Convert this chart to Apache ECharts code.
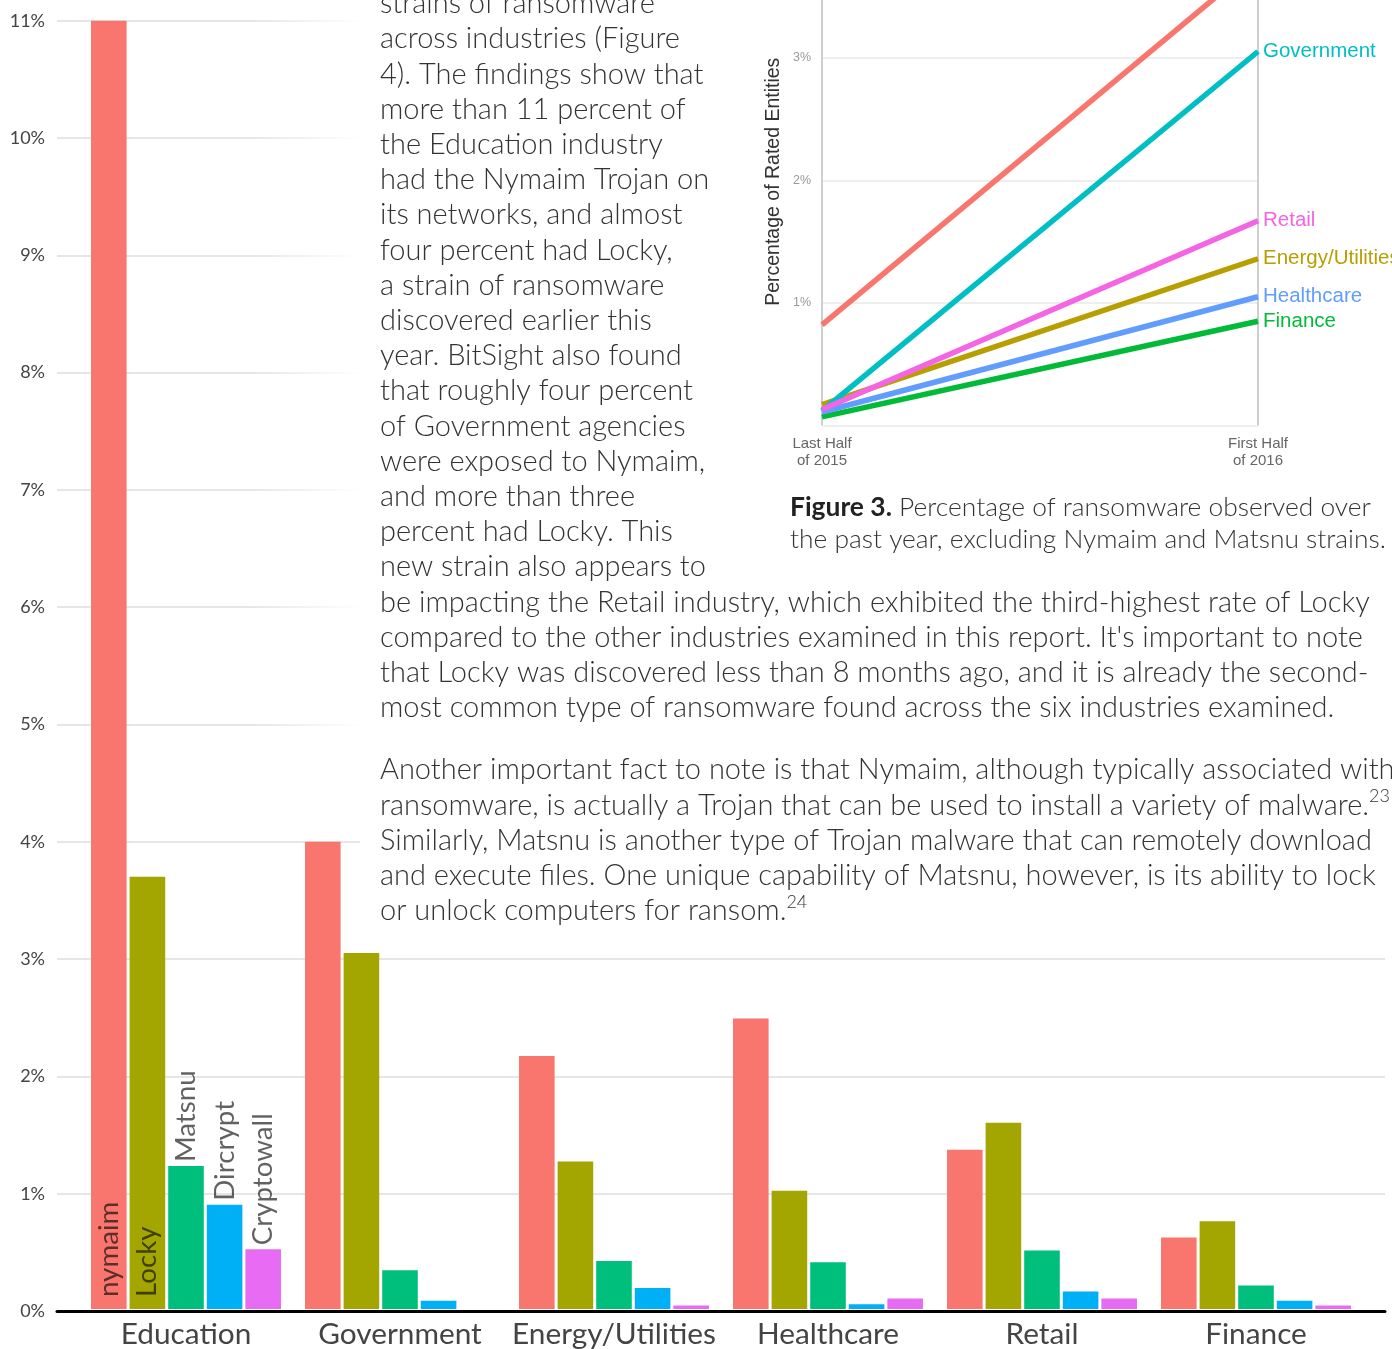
<!DOCTYPE html>
<html><head><meta charset="utf-8">
<script src="https://cdn.jsdelivr.net/npm/echarts@6/dist/echarts.min.js"></script>
<style>html,body{margin:0;padding:0;background:#fff}#c{width:1392px;height:1349px}</style>
</head><body><div id="c"></div>
<script>
// ---- main bar chart data (percent of entities) ----
const categories = ['Education', 'Government', 'Energy/Utilities', 'Healthcare', 'Retail', 'Finance'];
const nymaim     = [11.08, 3.99, 2.16, 2.48, 1.36, 0.61];
const locky      = [3.69, 3.04, 1.26, 1.01, 1.59, 0.75];
const matsnu     = [1.22, 0.33, 0.41, 0.40, 0.50, 0.20];
const dircrypt   = [0.89, 0.07, 0.18, 0.04, 0.15, 0.07];
const cryptowall = [0.51, 0.00, 0.03, 0.09, 0.09, 0.03];
const strainNames = ['nymaim', 'Locky', 'Matsnu', 'Dircrypt', 'Cryptowall'];
const yTicks = [0, 1, 2, 3, 4, 5, 6, 7, 8, 9, 10, 11];

// ---- inset line chart data (Figure 3) ----
const periods = ['Last Half\nof 2015', 'First Half\nof 2016'];
const eduLine  = [0.82, 3.78];
const enerLine = [0.17, 1.36];
const finLine  = [0.07, 0.85];
const govLine  = [0.12, 3.05];
const hlthLine = [0.11, 1.05];
const retLine  = [0.13, 1.67];
const insetTicks = [1, 2, 3];
const insetMax = 3.47;

// ---- texts ----
const bodyLines = [
  'strains of ransomware',
  'across industries (Figure',
  '4). The findings show that',
  'more than 11 percent of',
  'the Education industry',
  'had the Nymaim Trojan on',
  'its networks, and almost',
  'four percent had Locky,',
  'a strain of ransomware',
  'discovered earlier this',
  'year. BitSight also found',
  'that roughly four percent',
  'of Government agencies',
  'were exposed to Nymaim,',
  'and more than three',
  'percent had Locky. This',
  'new strain also appears to',
  'be impacting the Retail industry, which exhibited the third-highest rate of Locky',
  "compared to the other industries examined in this report. It's important to note",
  'that Locky was discovered less than 8 months ago, and it is already the second-',
  'most common type of ransomware found across the six industries examined.'
];
const body2Lines = [
  'Another important fact to note is that Nymaim, although typically associated with',
  'ransomware, is actually a Trojan that can be used to install a variety of malware.{sup|23}',
  'Similarly, Matsnu is another type of Trojan malware that can remotely download',
  'and execute files. One unique capability of Matsnu, however, is its ability to lock',
  'or unlock computers for ransom.{sup|24}'
];
const captionBold = 'Figure 3.';
const captionLines = [' Percentage of ransomware observed over', 'the past year, excluding Nymaim and Matsnu strains.'];

// ---- font fitting helper ----
const mctx = document.createElement('canvas').getContext('2d');
function fit(text, targetW, family, weight) {
  mctx.font = (weight || 'normal') + ' 100px ' + family;
  return 100 * targetW / mctx.measureText(text).width;
}
const F = 'Lato, sans-serif';
const FI = '"Liberation Sans", Arial, sans-serif';
const bodySize = fit(bodyLines[17], 990, F, 300);
const capSize = fit(captionLines[1], 596, F, 300);
const catSize = fit('Energy/Utilities', 204, F);
const barLblSize = fit('Cryptowall', 132, F);

const colors = ['#F8766D', '#A3A500', '#00BF7D', '#00B0F6', '#E76BF3'];
const lblColor = 'rgba(0,0,0,0.62)';
function withEduLabel(arr, name, pos, dist) {
  return arr.map((v, i) => i === 0 ? {
    value: v,
    label: { show: true, formatter: name, position: pos, distance: dist, rotate: 90, align: 'left',
      verticalAlign: 'middle', fontSize: barLblSize, fontFamily: F, color: lblColor }
  } : v);
}
const barSeries = [nymaim, locky, matsnu, dircrypt, cryptowall].map((arr, k) => ({
  type: 'bar', name: strainNames[k], xAxisIndex: 0, yAxisIndex: 0,
  data: withEduLabel(arr, strainNames[k], k < 2 ? 'insideBottom' : 'top', k < 2 ? 12 : 4),
  barWidth: 35.6, barGap: '8.4%', itemStyle: { color: colors[k] }, z: 2
}));

const lineDefs = [
  ['Education', eduLine, '#F8766D'],
  ['Energy/Utilities', enerLine, '#B79F00'],
  ['Finance', finLine, '#00BA38'],
  ['Government', govLine, '#00BFC4'],
  ['Healthcare', hlthLine, '#619CFF'],
  ['Retail', retLine, '#F564E3']
];
const lineSeries = lineDefs.map(d => ({
  type: 'line', name: d[0], xAxisIndex: 2, yAxisIndex: 2, data: d[1],
  symbol: 'none', z: 6, clip: false,
  lineStyle: { color: d[2], width: 5.5 }, itemStyle: { color: d[2] },
  endLabel: { show: true, formatter: '{a}', color: d[2], fontSize: 20.5, fontFamily: FI, distance: 5 }
}));

const chart = echarts.init(document.getElementById('c'));
chart.setOption({
  animation: false,
  backgroundColor: '#fff',
  grid: [
    { left: 79, right: 29, top: 20.7, bottom: 38 },
    { left: 57, right: 7, top: 20.7, bottom: 38 },
    { left: 822, width: 436, top: 0, height: 425.5 }
  ],
  xAxis: [
    { gridIndex: 0, type: 'category', data: categories, axisLine: { show: false }, axisTick: { show: false },
      axisLabel: { fontSize: catSize, color: '#444', fontFamily: F, margin: 10, interval: 0 } },
    { gridIndex: 1, type: 'value', min: 0, max: 1, axisLine: { show: true, lineStyle: { color: '#000', width: 3 } },
      axisTick: { show: false }, axisLabel: { show: false }, splitLine: { show: false } },
    { gridIndex: 2, type: 'category', data: periods, boundaryGap: false, z: 3,
      axisLine: { show: false }, axisTick: { show: false },
      axisLabel: { fontSize: 15, color: '#666', fontFamily: FI, margin: 10, lineHeight: 17 },
      splitLine: { show: true, lineStyle: { color: '#cfcfcf', width: 2 } } }
  ],
  yAxis: [
    { gridIndex: 0, type: 'value', min: 0, max: 11, interval: 1, show: false },
    { gridIndex: 1, type: 'value', min: yTicks[0], max: yTicks[yTicks.length - 1], interval: 1,
      axisLine: { show: false }, axisTick: { show: false },
      axisLabel: { formatter: '{value}%', fontSize: 18, color: '#444', fontFamily: F, margin: 12 },
      splitLine: { lineStyle: { color: '#e6e6e6', width: 2 } } },
    { gridIndex: 2, type: 'value', min: 0, max: insetMax, interval: 1, z: 3,
      name: 'Percentage of Rated Entities', nameLocation: 'middle', nameGap: 38,
      nameTextStyle: { fontSize: 19.5, color: '#333', fontFamily: FI, padding: [0, 0, 0, 62] },
      axisLine: { show: false }, axisTick: { show: false },
      axisLabel: { formatter: v => insetTicks.indexOf(v) >= 0 ? v + '%' : '', fontSize: 12.5, color: '#999', fontFamily: FI, margin: 11 },
      splitLine: { showMaxLine: false, lineStyle: { color: '#eeeeee', width: 2 } } }
  ],
  series: barSeries.concat(lineSeries),
  graphic: [
    { type: 'rect', z: 1, silent: true, shape: { x: 250, y: 0, width: 112, height: 745 },
      style: { fill: new echarts.graphic.LinearGradient(0, 0, 1, 0, [
        { offset: 0, color: 'rgba(255,255,255,0)' }, { offset: 1, color: '#fff' }]) } },
    { type: 'rect', z: 1, silent: true, shape: { x: 360, y: 0, width: 1032, height: 935 }, style: { fill: '#fff' } },
    { type: 'text', z: 5, x: 380, y: 3.8 - 17.6,
      style: { text: bodyLines.join('\n'), fontSize: bodySize, fontWeight: 300, fontFamily: F, fill: '#333', lineHeight: 35.2, verticalAlign: 'top' } },
    { type: 'text', z: 5, x: 380, y: 770 - 17.6,
      style: { text: body2Lines.join('\n'), fontSize: bodySize, fontWeight: 300, fontFamily: F, fill: '#333', lineHeight: 35.2, verticalAlign: 'top',
        rich: { sup: { fontSize: bodySize * 0.62, fontWeight: 300, fontFamily: F, fill: '#333', verticalAlign: 'top', lineHeight: 35.2, padding: [0, 0, 14, 0] } } } },
    { type: 'text', z: 5, x: 790, y: 507 - 16,
      style: { text: '{b|' + captionBold + '}' + captionLines[0] + '\n' + captionLines[1], fontSize: capSize, fontWeight: 300, fontFamily: F, fill: '#333', lineHeight: 32, verticalAlign: 'top',
        rich: { b: { fontWeight: 'bold', fontSize: capSize, fontFamily: F, fill: '#222', lineHeight: 32 } } } }
  ]
});
</script></body></html>
